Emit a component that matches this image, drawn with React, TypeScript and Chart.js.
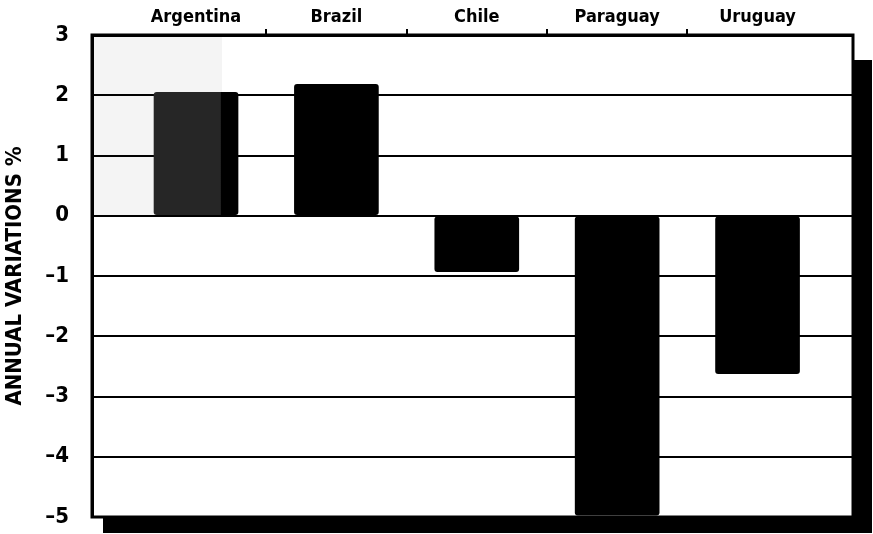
import React, { useEffect, useRef } from "react";
import { Chart, registerables } from "chart.js";

Chart.register(...registerables);

// Annual variations (%) by country
const categories: string[] = ["Argentina", "Brazil", "Chile", "Paraguay", "Uruguay"];
const variations: number[] = [2.05, 2.18, -0.93, -4.97, -2.62];
const yMin = -5;
const yMax = 3;
const yTitle = "ANNUAL VARIATIONS %";

const FONT = "'Liberation Sans Narrow', 'DejaVu Sans Condensed', 'Liberation Sans', sans-serif";

// Offset drop shadow behind the plot area, plus the faded print patch in the top-left corner
const framePlugin = {
  id: "frame",
  beforeDraw(chart: any) {
    const { ctx, chartArea: a, scales } = chart;
    if (!a) return;
    ctx.save();
    ctx.fillStyle = "#000";
    ctx.fillRect(a.left + 11, a.top + 25, a.right + 19 - (a.left + 11), a.bottom + 16 - (a.top + 25));
    ctx.fillStyle = "#fff";
    ctx.fillRect(a.left, a.top, a.right - a.left, a.bottom - a.top);
    const xEnd = scales.x.getPixelForValue(0.185);
    const yZero = scales.y.getPixelForValue(0);
    ctx.fillStyle = "#f4f4f4";
    ctx.fillRect(a.left, a.top, xEnd - a.left, yZero - a.top);
    ctx.restore();
  },
  afterDatasetsDraw(chart: any) {
    const { ctx, chartArea: a } = chart;
    ctx.save();
    ctx.strokeStyle = "#000";
    ctx.lineWidth = 3;
    ctx.strokeRect(a.left, a.top, a.right - a.left, a.bottom - a.top);
    ctx.restore();
  },
};

function barColor(c: any) {
  if (c.dataIndex !== 0) return "#000";
  const chart = c.chart;
  const xs = chart.scales && chart.scales.x;
  if (!chart.chartArea || !xs) return "#262626";
  const cx = xs.getPixelForValue(0);
  const g = chart.ctx.createLinearGradient(cx - 42, 0, cx + 42, 0);
  g.addColorStop(0, "#262626");
  g.addColorStop(0.79, "#262626");
  g.addColorStop(0.8, "#000");
  g.addColorStop(1, "#000");
  return g;
}

export default function App() {
  const canvasRef = useRef<HTMLCanvasElement>(null);

  useEffect(() => {
    if (!canvasRef.current) return;
    // tick marks only between neighbouring countries
    const tickMarkColor = (c: any) =>
      c.type !== "tick" || c.index === 0 ? "rgba(0,0,0,0)" : "#000";

    const chart = new Chart(canvasRef.current, {
      type: "bar",
      data: {
        datasets: [
          {
            data: variations.map((v, i) => ({ x: i, y: v })),
            backgroundColor: barColor,
            borderWidth: 0,
            borderRadius: 3,
            borderSkipped: false,
            barThickness: 84,
          },
        ],
      },
      options: {
        animation: false,
        responsive: true,
        maintainAspectRatio: false,
        layout: { padding: { left: 0, top: 5, right: 20, bottom: 17 } },
        plugins: { legend: { display: false }, tooltip: { enabled: false } },
        scales: {
          x: {
            type: "linear",
            position: "top",
            offset: false,
            min: -0.741,
            max: 4.68,
            afterBuildTicks: (scale: any) => {
              scale.ticks = categories.map((_, i) => ({ value: i }));
            },
            afterFit: (scale: any) => {
              scale.height = 30;
              scale.paddingLeft = 0;
              scale.paddingRight = 0;
            },
            ticks: {
              autoSkip: false,
              maxRotation: 0,
              padding: 1,
              color: "#000",
              font: { family: FONT, size: 18, weight: "bold" },
              callback: (v: any) => categories[v] ?? "",
            },
            grid: {
              drawOnChartArea: false,
              offset: true,
              tickLength: 6,
              lineWidth: 2,
              color: tickMarkColor,
              tickColor: tickMarkColor,
            },
            border: { display: true, color: "#000", width: 3 },
          },
          y: {
            min: yMin,
            max: yMax,
            afterFit: (scale: any) => {
              scale.width = 92;
              scale.paddingTop = 0;
              scale.paddingBottom = 0;
            },
            ticks: {
              stepSize: 1,
              padding: 23,
              color: "#000",
              font: { family: FONT, size: 22, weight: "bold" },
              callback: (v: any) => (v < 0 ? "\u2013" + Math.abs(v) : String(v)),
            },
            grid: { color: "#000", lineWidth: 2, drawTicks: false },
            border: { display: true, color: "#000", width: 3 },
            title: {
              display: true,
              text: yTitle,
              color: "#000",
              padding: { top: 2, bottom: 0 },
              font: { family: FONT, size: 22, weight: "bold" },
            },
          },
        },
      },
      plugins: [framePlugin],
    });
    return () => chart.destroy();
  }, []);

  return (
    <div style={{ position: "fixed", left: 0, top: 0, width: 873, height: 534, background: "#fff" }}>
      <canvas ref={canvasRef} />
    </div>
  );
}
